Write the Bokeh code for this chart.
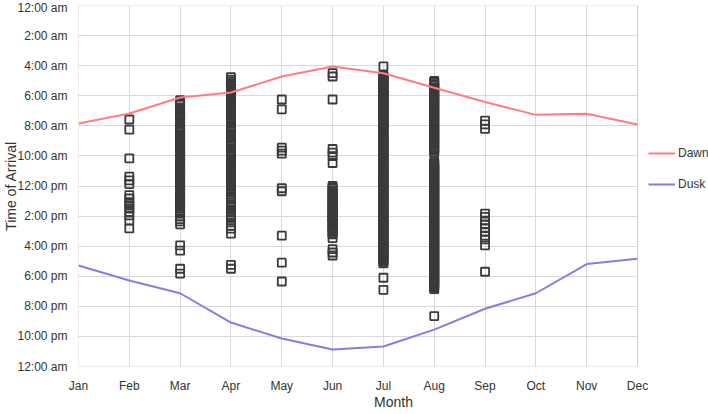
from bokeh.plotting import figure
from bokeh.models import Range1d, FixedTicker, Legend, LegendItem, BoxAnnotation
from bokeh.embed import file_html
from bokeh.resources import INLINE

# Month axis
months = ["Jan", "Feb", "Mar", "Apr", "May", "Jun",
          "Jul", "Aug", "Sep", "Oct", "Nov", "Dec"]

# Dawn and dusk, in hours after midnight
dawn = [7.85, 7.18, 6.12, 5.78, 4.72, 4.05, 4.5, 5.47, 6.42, 7.27, 7.2, 7.91]
dusk = [17.29, 18.28, 19.13, 21.08, 22.14, 22.87, 22.67, 21.55, 20.16, 19.13, 17.19, 16.84]

# Arrival times (hours after midnight) recorded in each month
arrivals_feb = [7.58, 8.25, 10.17, 11.38, 11.62, 11.87, 12.6, 12.83, 13.08, 13.27,
                13.5, 13.72, 13.95, 14.3, 14.82]
arrivals_mar = [6.3, 6.43, 6.52, 6.6, 6.77, 6.85, 6.95, 7.03, 7.18, 7.27, 7.35, 7.42,
                7.6, 7.7, 7.8, 7.88, 8.05, 8.13, 8.22, 8.3, 8.39, 8.47, 8.58, 8.65,
                8.72, 8.81, 8.9, 9.02, 9.13, 9.21, 9.3, 9.38, 9.45, 9.55, 9.63, 9.72,
                9.8, 9.87, 9.98, 10.07, 10.15, 10.23, 10.3, 10.42, 10.5, 10.57, 10.65,
                10.73, 10.85, 10.93, 11.02, 11.1, 11.15, 11.22, 11.3, 11.38, 11.47,
                11.58, 11.67, 11.75, 11.82, 11.92, 12.05, 12.12, 12.2, 12.28, 12.35,
                12.47, 12.55, 12.63, 12.72, 12.8, 12.93, 13.02, 13.1, 13.18, 13.27,
                13.38, 13.5, 13.62, 13.73, 13.83, 14.02, 14.2, 14.35, 14.55, 15.95,
                16.3, 17.5, 17.82]
arrivals_apr = [4.77, 4.95, 5.07, 5.18, 5.3, 5.38, 5.48, 5.57, 5.65, 5.75, 5.87, 6.0,
                6.1, 6.2, 6.35, 6.45, 6.53, 6.62, 6.8, 6.9, 7.03, 7.17, 7.25, 7.32,
                7.43, 7.55, 7.67, 7.75, 7.85, 8.02, 8.1, 8.2, 8.3, 8.38, 8.5, 8.6,
                8.68, 8.78, 8.87, 9.0, 9.1, 9.18, 9.28, 9.37, 9.52, 9.62, 9.7, 9.83,
                9.92, 10.0, 10.2, 10.27, 10.33, 10.43, 10.55, 10.67, 10.77, 10.85,
                10.95, 11.05, 11.2, 11.3, 11.38, 11.5, 11.6, 11.72, 11.87, 11.95,
                12.05, 12.22, 12.32, 12.4, 12.57, 12.7, 12.78, 12.9, 13.08, 13.22,
                13.32, 13.42, 13.58, 13.73, 13.9, 14.0, 14.1, 14.27, 14.42, 14.65,
                14.83, 15.17, 17.25, 17.5]
arrivals_may = [6.25, 6.9, 9.45, 9.65, 9.85, 12.15, 12.35, 15.3, 17.1, 18.35]
arrivals_jun = [4.5, 4.72, 6.25, 9.54, 9.78, 10.01, 10.47, 12.0, 12.1, 12.18, 12.3,
                12.4, 12.5, 12.62, 12.75, 12.83, 12.92, 13.05, 13.13, 13.22, 13.35,
                13.43, 13.52, 13.6, 13.68, 13.8, 13.88, 13.97, 14.05, 14.12, 14.22,
                14.3, 14.42, 14.5, 14.58, 14.72, 14.8, 14.88, 15.05, 15.13, 15.22,
                15.46, 16.2, 16.42, 16.62]
arrivals_jul = [4.05, 4.65, 4.72, 4.77, 4.85, 4.9, 5.0, 5.08, 5.15, 5.2, 5.27, 5.33,
                5.42, 5.5, 5.55, 5.62, 5.7, 5.78, 5.83, 5.9, 5.97, 6.05, 6.13, 6.22,
                6.27, 6.33, 6.4, 6.48, 6.55, 6.63, 6.68, 6.75, 6.83, 6.92, 6.98, 7.05,
                7.12, 7.2, 7.27, 7.35, 7.4, 7.47, 7.55, 7.63, 7.7, 7.78, 7.85, 7.9,
                7.98, 8.07, 8.15, 8.22, 8.37, 8.55, 8.62, 8.7, 8.78, 8.85, 8.92, 9.0,
                9.08, 9.2, 9.28, 9.38, 9.45, 9.52, 9.6, 9.7, 9.78, 9.88, 9.97, 10.05,
                10.15, 10.25, 10.33, 10.42, 10.5, 10.6, 10.68, 10.77, 10.85, 10.93,
                11.03, 11.12, 11.2, 11.28, 11.37, 11.45, 11.52, 11.6, 11.7, 11.78,
                11.87, 11.95, 12.03, 12.1, 12.2, 12.28, 12.37, 12.45, 12.53, 12.62,
                12.7, 12.78, 12.87, 12.95, 13.03, 13.12, 13.22, 13.3, 13.4, 13.48,
                13.55, 13.63, 13.72, 13.8, 13.88, 13.97, 14.05, 14.13, 14.22, 14.3,
                14.38, 14.47, 14.55, 14.62, 14.72, 14.8, 14.88, 14.97, 15.05, 15.13,
                15.22, 15.3, 15.38, 15.47, 15.55, 15.63, 15.72, 15.8, 15.88, 15.97,
                16.05, 16.13, 16.22, 16.3, 16.38, 16.47, 16.55, 16.63, 16.72, 16.8,
                16.88, 16.97, 17.05, 17.15, 18.1, 18.9]
arrivals_aug = [5.02, 5.1, 5.15, 5.25, 5.33, 5.45, 5.52, 5.6, 5.7, 5.78, 5.9, 5.98,
                6.07, 6.13, 6.2, 6.3, 6.38, 6.45, 6.52, 6.65, 6.75, 6.83, 6.9, 6.97,
                7.1, 7.2, 7.28, 7.35, 7.42, 7.55, 7.63, 7.73, 7.8, 7.87, 8.0, 8.1,
                8.18, 8.25, 8.32, 8.45, 8.55, 8.63, 8.7, 8.77, 8.9, 9.0, 9.08, 9.15,
                9.22, 9.35, 9.45, 9.52, 9.6, 9.67, 9.8, 10.4, 10.48, 10.55, 10.63,
                10.72, 10.8, 10.87, 10.95, 11.02, 11.1, 11.18, 11.27, 11.33, 11.42,
                11.5, 11.57, 11.65, 11.72, 11.8, 11.9, 11.97, 12.05, 12.12, 12.2,
                12.27, 12.35, 12.43, 12.5, 12.58, 12.67, 12.75, 12.83, 12.9, 12.98,
                13.05, 13.13, 13.22, 13.3, 13.37, 13.45, 13.52, 13.6, 13.68, 13.75,
                13.83, 13.92, 14.0, 14.08, 14.15, 14.22, 14.3, 14.38, 14.47, 14.55,
                14.62, 14.7, 14.77, 14.85, 14.93, 15.0, 15.08, 15.17, 15.25, 15.32,
                15.4, 15.47, 15.55, 15.63, 15.72, 15.8, 15.87, 15.95, 16.02, 16.1,
                16.18, 16.25, 16.33, 16.42, 16.5, 16.57, 16.65, 16.72, 16.8, 16.88,
                16.97, 17.05, 17.12, 17.2, 17.27, 17.35, 17.43, 17.5, 17.58, 17.67,
                17.75, 17.83, 17.9, 17.98, 18.05, 18.13, 18.22, 18.3, 18.37, 18.45,
                18.52, 18.6, 18.68, 18.77, 18.85, 20.65]
arrivals_sep = [7.65, 7.9, 8.2, 13.83, 14.05, 14.3, 14.55, 14.8, 15.05, 15.3, 15.55,
                15.95, 17.7]

# Hour ticks every two hours, midnight to midnight
hour_ticks = list(range(0, 25, 2))
hour_labels = ["12:00 am", "2:00 am", "4:00 am", "6:00 am", "8:00 am", "10:00 am",
               "12:00 pm", "2:00 pm", "4:00 pm", "6:00 pm", "8:00 pm", "10:00 pm",
               "12:00 am"]

FONT = "Liberation Sans"
TEXT = "#333333"
FRAME = "#8c8c8c"
GRID = "#d9d9d9"
DAWN_COLOR = "#ff7c80"
DUSK_COLOR = "#8b7ae0"

# The x range runs on past December so the legend has room beside the plot box
X_END = 11
X_PAD = 1.397
p = figure(width=708, height=414, output_backend="svg", toolbar_location=None,
           x_range=Range1d(0, X_END + X_PAD), y_range=Range1d(24, 0),
           min_border_left=78, min_border_right=0, min_border_top=5,
           min_border_bottom=48)

p.background_fill_color = "white"
p.border_fill_color = "white"
p.outline_line_color = None

# Axes
p.xaxis.ticker = FixedTicker(ticks=list(range(12)))
p.xaxis.major_label_overrides = {i: m for i, m in enumerate(months)}
p.yaxis.ticker = FixedTicker(ticks=hour_ticks)
p.yaxis.major_label_overrides = {t: l for t, l in zip(hour_ticks, hour_labels)}
p.xaxis.axis_label = "Month"
p.yaxis.axis_label = "Time of Arrival"

for ax in (p.xaxis, p.yaxis):
    ax.axis_line_color = None
    ax.major_tick_line_color = None
    ax.minor_tick_line_color = None
    ax.major_tick_out = 0
    ax.major_tick_in = 0
    ax.minor_tick_out = 0
    ax.minor_tick_in = 0
    ax.major_label_text_font = FONT
    ax.major_label_text_font_size = "12px"
    ax.major_label_text_color = TEXT
    ax.axis_label_text_font = FONT
    ax.axis_label_text_font_size = "14px"
    ax.axis_label_text_font_style = "normal"
    ax.axis_label_text_color = TEXT

# Tight standoffs keep the axis panels inside the fixed borders
p.xaxis.major_label_standoff = 12
p.xaxis.axis_label_standoff = -2
p.yaxis.major_label_standoff = 11
p.yaxis.axis_label_standoff = -5

p.xgrid.ticker = FixedTicker(ticks=list(range(12)))
p.ygrid.ticker = FixedTicker(ticks=hour_ticks)
p.grid.grid_line_color = GRID
p.grid.grid_line_width = 1

# Arrival markers, one column per month
columns = [(1, arrivals_feb), (2, arrivals_mar), (3, arrivals_apr), (4, arrivals_may),
           (5, arrivals_jun), (6, arrivals_jul), (7, arrivals_aug), (8, arrivals_sep)]
xs, ys = [], []
for m, times in columns:
    xs.extend([m] * len(times))
    ys.extend(times)
p.scatter(xs, ys, marker="square", size=8, fill_alpha=0,
          line_color="#3a3a3a", line_width=1.8)

# Dawn and dusk curves
month_idx = list(range(12))
dawn_r = p.line(month_idx, dawn, line_color=DAWN_COLOR, line_width=2)
dusk_r = p.line(month_idx, dusk, line_color=DUSK_COLOR, line_width=2)

# Blank out the strip past December and box the Jan-Dec plot area
p.add_layout(BoxAnnotation(left=X_END, fill_color="white", fill_alpha=1,
                           line_color=None))
p.add_layout(BoxAnnotation(left=0, right=X_END, top=0, bottom=24,
                           fill_alpha=0, line_color=FRAME, line_width=1))

legend = Legend(items=[LegendItem(label="Dawn", renderers=[dawn_r]),
                       LegendItem(label="Dusk", renderers=[dusk_r])],
                location=(570, 172), orientation="vertical",
                border_line_color=None, background_fill_alpha=0,
                padding=0, margin=0, spacing=11,
                glyph_width=27, glyph_height=20, label_height=20,
                label_standoff=3,
                label_text_font=FONT, label_text_font_size="12px",
                label_text_color=TEXT)
p.add_layout(legend, "center")

open("out.html", "w").write(file_html(p, INLINE))
